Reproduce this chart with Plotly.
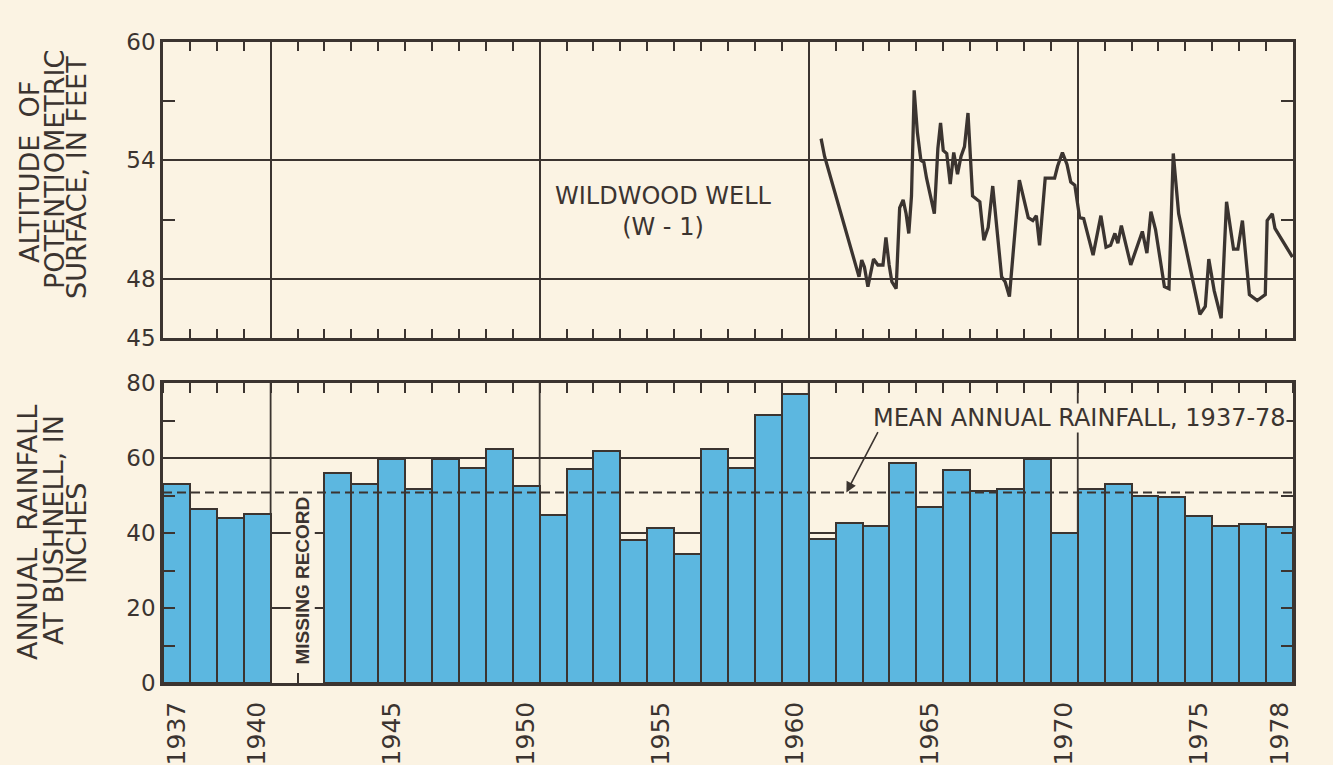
import plotly.graph_objects as go

# ---------------- data ----------------
YEARS = list(range(1937, 1979))
RAINFALL = [53.0, 46.4, 44.1, 45.2, None, None, 56.0, 53.0, 59.7, 51.7,
            59.7, 57.3, 62.4, 52.6, 44.8, 57.1, 61.9, 38.1, 41.4, 34.4,
            62.4, 57.3, 71.5, 77.1, 38.4, 42.7, 41.9, 58.7, 47.0, 56.8,
            51.2, 51.7, 59.7, 40.0, 51.7, 53.0, 49.9, 49.7, 44.6, 41.9,
            42.3, 41.7]
MEAN_RAINFALL = 50.8

WELL_YEAR = [1960.96, 1961.09, 1962.37, 1962.47, 1962.57, 1962.70, 1962.91, 1963.07,
             1963.26, 1963.37, 1963.49, 1963.59, 1963.75, 1963.88, 1964.01, 1964.12,
             1964.22, 1964.32, 1964.42, 1964.54, 1964.67, 1964.78, 1964.88, 1965.17,
             1965.30, 1965.40, 1965.50, 1965.63, 1965.76, 1965.89, 1966.03, 1966.16,
             1966.29, 1966.42, 1966.59, 1966.86, 1967.01, 1967.17, 1967.34, 1967.67,
             1967.80, 1967.96, 1968.33, 1968.66, 1968.83, 1968.96, 1969.08, 1969.29,
             1969.64, 1969.75, 1969.93, 1970.10, 1970.24, 1970.39, 1970.57, 1970.72,
             1971.07, 1971.36, 1971.55, 1971.72, 1971.88, 1971.99, 1972.12, 1972.47,
             1972.90, 1973.07, 1973.22, 1973.39, 1973.72, 1973.89, 1974.05, 1974.25,
             1975.04, 1975.24, 1975.37, 1975.57, 1975.83, 1976.03, 1976.29, 1976.45,
             1976.62, 1976.88, 1977.17, 1977.47, 1977.54, 1977.73, 1977.83, 1978.48]
WELL_LEVEL = [55.1, 54.2, 48.1, 48.95, 48.6, 47.6, 49.0, 48.7,
              48.7, 50.1, 48.7, 47.85, 47.5, 51.6, 52.0, 51.3,
              50.3, 52.2, 57.55, 55.4, 54.0, 53.9, 53.1, 51.3,
              54.6, 55.9, 54.5, 54.35, 52.8, 54.4, 53.3, 54.2,
              54.7, 56.4, 52.2, 51.9, 49.95, 50.6, 52.7, 48.1,
              47.85, 47.1, 53.0, 51.1, 50.95, 51.2, 49.7, 53.1,
              53.1, 53.7, 54.4, 53.8, 52.9, 52.75, 51.1, 51.05,
              49.2, 51.2, 49.6, 49.7, 50.3, 49.8, 50.7, 48.7,
              50.4, 49.3, 51.4, 50.5, 47.6, 47.5, 54.35, 51.3,
              46.2, 46.6, 49.0, 47.4, 46.0, 51.9, 49.5, 49.5,
              50.95, 47.2, 46.9, 47.2, 50.95, 51.3, 50.55, 49.1]

LABEL_YEARS = [1937, 1940, 1945, 1950, 1955, 1960, 1965, 1970, 1975, 1978]
YEAR_BOUNDS = [y - 0.5 for y in YEARS] + [YEARS[-1] + 0.5]
DECADE_BOUNDS = [1940.5, 1950.5, 1960.5, 1970.5]
X_RANGE = [YEARS[0] - 0.5, YEARS[-1] + 0.5]

ALT_TICKS = [45, 48, 54, 60]
ALT_MINOR = [51, 57]
RAIN_TICKS = [0, 20, 40, 60, 80]
RAIN_MINOR = [10, 30, 50, 70]

# ---------------- style ----------------
BG = "#fbf3e3"
INK = "#3b3430"
BLUE = "#5cb7e0"
FONT = "DejaVu Sans"

W, H = 1333, 765
ML, MR, MT, MB = 163, 40, 42, 82
PW, PH = W - ML - MR, H - MT - MB


def px(xp):
    return (xp - ML) / PW


def py(yp):
    return 1 - (yp - MT) / PH


fig = go.Figure()

fig.add_trace(go.Scatter(
    x=WELL_YEAR, y=WELL_LEVEL, mode="lines",
    line=dict(color=INK, width=3.3), xaxis="x", yaxis="y",
    hoverinfo="skip", showlegend=False))

fig.add_trace(go.Bar(
    x=YEARS, y=RAINFALL, width=1,
    marker=dict(color=BLUE, line=dict(color=INK, width=2)),
    xaxis="x2", yaxis="y2", hoverinfo="skip", showlegend=False))

axis_common = dict(showline=True, linecolor=INK, linewidth=2.5,
                   tickcolor=INK, tickwidth=2, zeroline=False, automargin=False)

fig.update_layout(
    width=W, height=H,
    margin=dict(l=ML, r=MR, t=MT, b=MB, autoexpand=False),
    paper_bgcolor=BG, plot_bgcolor=BG,
    bargap=0, showlegend=False, hovermode=False,
    xaxis=dict(domain=[0, 1], anchor="y", range=X_RANGE,
               tickmode="array", tickvals=DECADE_BOUNDS, showticklabels=False,
               ticks="inside", ticklen=9, mirror="ticks",
               showgrid=True, gridcolor=INK, gridwidth=1.8,
               minor=dict(tickmode="array", tickvals=YEAR_BOUNDS, ticks="inside",
                          ticklen=9, tickwidth=2, tickcolor=INK, showgrid=False),
               **axis_common),
    yaxis=dict(domain=[1 - 296 / PH, 1], anchor="x", range=[45, 60],
               tickmode="array", tickvals=ALT_TICKS,
               ticktext=[str(v) for v in ALT_TICKS],
               tickfont=dict(family=FONT, size=23, color=INK),
               ticks="inside", ticklen=12, mirror="ticks",
               showgrid=True, gridcolor=INK, gridwidth=1.8,
               minor=dict(tickmode="array", tickvals=ALT_MINOR, ticks="inside",
                          ticklen=12, tickwidth=2, tickcolor=INK, showgrid=False),
               **axis_common),
    xaxis2=dict(domain=[0, 1], anchor="y2", range=X_RANGE,
                tickmode="array", tickvals=LABEL_YEARS,
                ticktext=[str(v) for v in LABEL_YEARS], tickangle=-90,
                tickfont=dict(family=FONT, size=25, color=INK),
                ticklabelstandoff=6,
                ticks="", mirror="ticks", showgrid=False, layer="below traces",
                minor=dict(tickmode="array", tickvals=YEAR_BOUNDS, ticks="inside",
                           ticklen=10, tickwidth=2, tickcolor=INK, showgrid=False),
                **axis_common),
    yaxis2=dict(domain=[0, 300 / PH], anchor="x2", range=[0, 80],
                tickmode="array", tickvals=RAIN_TICKS,
                ticktext=[str(v) for v in RAIN_TICKS],
                tickfont=dict(family=FONT, size=23, color=INK),
                ticks="inside", ticklen=12, mirror="ticks",
                showgrid=True, gridcolor=INK, gridwidth=1.8, layer="above traces",
                minor=dict(tickmode="array", tickvals=RAIN_MINOR, ticks="inside",
                           ticklen=12, tickwidth=2, tickcolor=INK, showgrid=False),
                **axis_common),
)

# vertical decade grid lines in the rainfall panel (behind bars)
for xb in DECADE_BOUNDS:
    fig.add_shape(type="line", xref="x2", yref="y2 domain", x0=xb, x1=xb, y0=0, y1=1,
                  line=dict(color=INK, width=1.8), layer="below")

# mean annual rainfall line
fig.add_shape(type="line", xref="x2 domain", yref="y2", x0=0, x1=1,
              y0=MEAN_RAINFALL, y1=MEAN_RAINFALL,
              line=dict(color=INK, width=2.2, dash="9px,5px"), layer="above")

ann = []
# axis titles (one annotation per line)
for text, xc, yc in [("ALTITUDE  OF", 30, 172), ("POTENTIOMETRIC", 54, 170),
                     ("SURFACE, IN FEET", 77, 178),
                     ("ANNUAL  RAINFALL", 27, 533), ("AT BUSHNELL, IN", 53, 530),
                     ("INCHES", 76, 533)]:
    ann.append(dict(text=text, xref="paper", yref="paper", x=px(xc), y=py(yc),
                    xanchor="center", yanchor="middle", textangle=-90,
                    showarrow=False, font=dict(family=FONT, size=27, color=INK)))

ann.append(dict(text="WILDWOOD WELL<br>(W - 1)", xref="x", yref="y", x=1955.12, y=51.41,
                showarrow=False, align="center",
                font=dict(family=FONT, size=24, color=INK)))

ann.append(dict(text="MISSING RECORD", xref="x2", yref="y2", x=1941.7, y=27.3,
                textangle=-90, showarrow=False, bgcolor=BG, borderpad=1,
                font=dict(family="Liberation Sans Narrow, Liberation Sans", size=19,
                          weight="bold", color=INK)))

ann.append(dict(text="MEAN ANNUAL RAINFALL, 1937-78", xref="x2", yref="y2",
                x=1962.85, y=70.8, xanchor="left", yanchor="middle",
                showarrow=False, bgcolor=BG, borderpad=0,
                font=dict(family=FONT, size=24, color=INK)))
ann.append(dict(text="", xref="x2", yref="y2", x=1961.9, y=MEAN_RAINFALL,
                axref="x2", ayref="y2", ax=1963.1, ay=67.3,
                showarrow=True, arrowhead=2, arrowsize=1.3, arrowwidth=1.6,
                arrowcolor=INK))

fig.update_layout(annotations=ann)

fig.write_html(
    "out.html",
    config={"displayModeBar": False},
    post_script="document.body.style.margin='0';"
                "document.body.style.overflow='hidden';"
                "document.body.style.background='" + BG + "';")
